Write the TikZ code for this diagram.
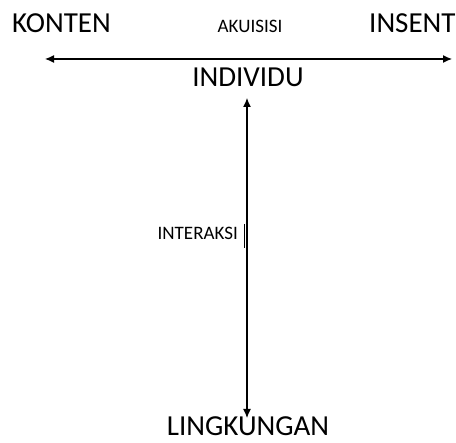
\documentclass[tikz,border=0pt]{standalone}
\usepackage{fontspec}
\setmainfont{Carlito}
\usetikzlibrary{backgrounds}
\usetikzlibrary{arrows.meta}
\usetikzlibrary{positioning}

\begin{document}
\begin{tikzpicture}[
    x=1pt, y=1pt,
    show background rectangle,
    tight background=0,
    background rectangle/.style={fill=white},
    big/.style={inner sep=0, font=\fontsize{29}{29}\selectfont},
    small/.style={inner sep=0, font=\fontsize{19}{19}\selectfont},
    arr/.style={line width=1.2pt, {Latex[length=9pt,width=8pt]}-{Latex[length=9pt,width=8pt]}},
 ]
    \useasboundingbox (0,0) rectangle (456,443);

    \node[big, anchor=base west] (konten) at (12,410) {KONTEN};
    \node[small, anchor=base] (akuisisi) at (250,410) {AKUISISI};
    \node[big, anchor=base west] (insent) at (369,410) {INSENT};

    \coordinate (L) at (45,384);
    \coordinate (R) at (452,384);
    \draw[arr] (L) -- (R);

    \node[big, anchor=base] (indiv) at (248,356) {INDIVIDU};
    \node[big, anchor=base] (ling) at (248,7) {LINGKUNGAN};

    \coordinate (T) at (247,345);
    \coordinate (B) at (247,25);
    \draw[arr] (B) -- (T);

    \node[small, anchor=base east] (interaksi) at (238,203) {INTERAKSI};
    % cursor bar
    \coordinate (c1) at (244,219);
    \coordinate (c2) at (244,195);
    \draw[line width=1pt] (c1) -- (c2);
\end{tikzpicture}
\end{document}
